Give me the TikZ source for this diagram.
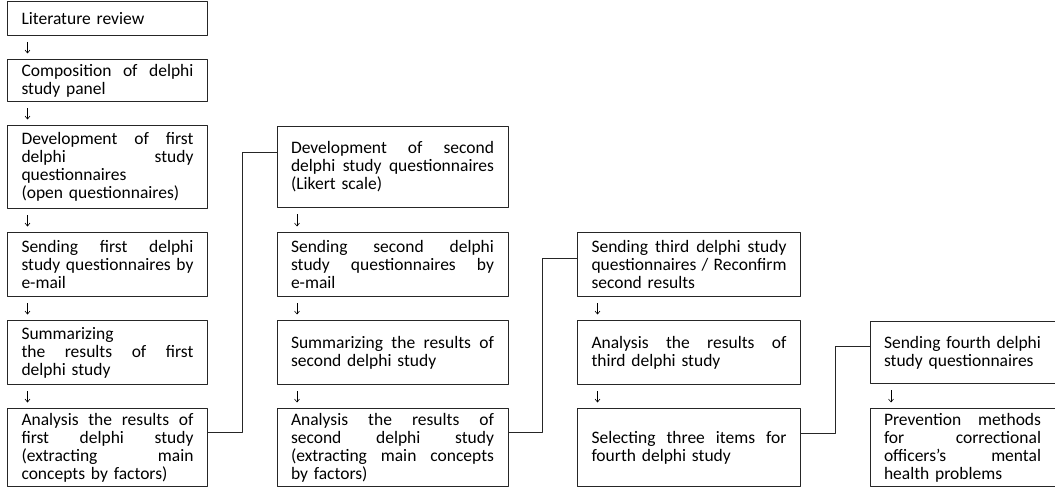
\documentclass[tikz,border=0pt]{standalone}
\usepackage{fontspec}
\setmainfont{Carlito}
\usetikzlibrary{arrows.meta,positioning}
\setlength{\parindent}{0pt}
\newcommand{\boxfont}{\fontsize{17.5pt}{18pt}\selectfont}
\newcommand{\stagewidth}{172pt}
\newcommand{\spreadline}[1]{\leavevmode\hbox to \stagewidth{#1}}

\begin{document}
\begin{tikzpicture}[
    >={Straight Barb[length=3pt,width=5pt]},
    line join=round,
    stage/.style={rectangle,draw=black!85,line width=1pt,font=\boxfont,
        text width=#1,inner xsep=14pt,inner ysep=3pt,align=left,
        execute at begin node={\def\stagewidth{#1}}},
    stage/.default=172pt,
    flow/.style={->,line width=.6pt,shorten <=6pt,shorten >=5.5pt},
    link/.style={line width=1pt,draw=black!85},
    node distance=23pt and 68.5pt
  ]
    \useasboundingbox (0,0) rectangle (1055pt,-487pt);

    \node [stage,minimum height=34pt,anchor=north west] (lit) at (7pt,-1pt)
        {Literature review};
    \node [stage,minimum height=42pt,below=of lit] (panel)
        {\spreadline{Composition\hfill of\hfill delphi}\\study panel};
    \node [stage,minimum height=83pt,below=of panel] (dev1)
        {\spreadline{Development\hfill of\hfill first}\\\spreadline{delphi\hfill study}\\
         questionnaires\\(open questionnaires)};
    \node [stage,minimum height=64pt,below=of dev1] (send1)
        {\spreadline{Sending\hfill first\hfill delphi}\\
         \spreadline{study\hfill questionnaires\hfill by}\\e-mail};
    \node [stage,minimum height=64pt,below=of send1] (sum1)
        {Summarizing\\\spreadline{the\hfill results\hfill of\hfill first}\\delphi study};
    \node [stage,minimum height=78pt,below=of sum1] (ana1)
        {\spreadline{Analysis\hfill the\hfill results\hfill of}\\
         \spreadline{first\hfill delphi\hfill study}\\
         \spreadline{(extracting\hfill main}\\concepts by factors)};

    \node [stage=203pt,minimum height=81pt,right=of dev1] (dev2)
        {\spreadline{Development\hfill of\hfill second}\\
         \spreadline{delphi\hfill study\hfill questionnaires}\\(Likert scale)};
    \node [stage=203pt,minimum height=64pt,right=of send1] (send2)
        {\spreadline{Sending\hfill second\hfill delphi}\\
         \spreadline{study\hfill questionnaires\hfill by}\\e-mail};
    \node [stage=203pt,minimum height=64pt,right=of sum1] (sum2)
        {\spreadline{Summarizing\hfill the\hfill results\hfill of}\\second delphi study};
    \node [stage=203pt,minimum height=78pt,right=of ana1] (ana2)
        {\spreadline{Analysis\hfill the\hfill results\hfill of}\\
         \spreadline{second\hfill delphi\hfill study}\\
         \spreadline{(extracting\hfill main\hfill concepts}\\by factors)};

    \node [stage=195pt,minimum height=64pt,right=of send2] (send3)
        {\spreadline{Sending\hfill third\hfill delphi\hfill study}\\
         \spreadline{questionnaires\hfill /\hfill Reconfirm}\\second results};
    \node [stage=195pt,minimum height=64pt,right=of sum2] (ana3)
        {\spreadline{Analysis\hfill the\hfill results\hfill of}\\third delphi study};
    \node [stage=195pt,minimum height=78pt,right=of ana2] (select)
        {\spreadline{Selecting\hfill three\hfill items\hfill for}\\fourth delphi study};

    \node [stage=157pt,minimum height=62pt,right=of ana3] (send4)
        {\spreadline{Sending\hfill fourth\hfill delphi}\\study questionnaires};
    \node [stage=157pt,minimum height=78pt,right=of select] (prevent)
        {\spreadline{Prevention\hfill methods}\\\spreadline{for\hfill correctional}\\
         \spreadline{officers's\hfill mental}\\health problems};

    \begin{scope}[flow]
        \draw ([xshift=20.5pt]lit.south west)   -- ([xshift=20.5pt]panel.north west);
        \draw ([xshift=20.5pt]panel.south west) -- ([xshift=20.5pt]dev1.north west);
        \draw ([xshift=20.5pt]dev1.south west)  -- ([xshift=20.5pt]send1.north west);
        \draw ([xshift=20.5pt]send1.south west) -- ([xshift=20.5pt]sum1.north west);
        \draw ([xshift=20.5pt]sum1.south west)  -- ([xshift=20.5pt]ana1.north west);
        \draw ([xshift=20.5pt]dev2.south west)  -- ([xshift=20.5pt]send2.north west);
        \draw ([xshift=20.5pt]send2.south west) -- ([xshift=20.5pt]sum2.north west);
        \draw ([xshift=20.5pt]sum2.south west)  -- ([xshift=20.5pt]ana2.north west);
        \draw ([xshift=20.5pt]send3.south west) -- ([xshift=20.5pt]ana3.north west);
        \draw ([xshift=20.5pt]ana3.south west)  -- ([xshift=20.5pt]select.north west);
        \draw ([xshift=21.5pt]send4.south west) -- ([xshift=21.5pt]prevent.north west);
    \end{scope}

    \draw [link] ([yshift=15pt]ana1.east) -- ++(34pt,0) |- ([yshift=15pt]dev2.west);
    \draw [link] ([yshift=15pt]ana2.east) -- ++(34pt,0) |- ([yshift=6pt]send3.west);
    \draw [link] ([yshift=14pt]select.east) -- ++(34pt,0) |- ([yshift=6pt]send4.west);
\end{tikzpicture}
\end{document}
